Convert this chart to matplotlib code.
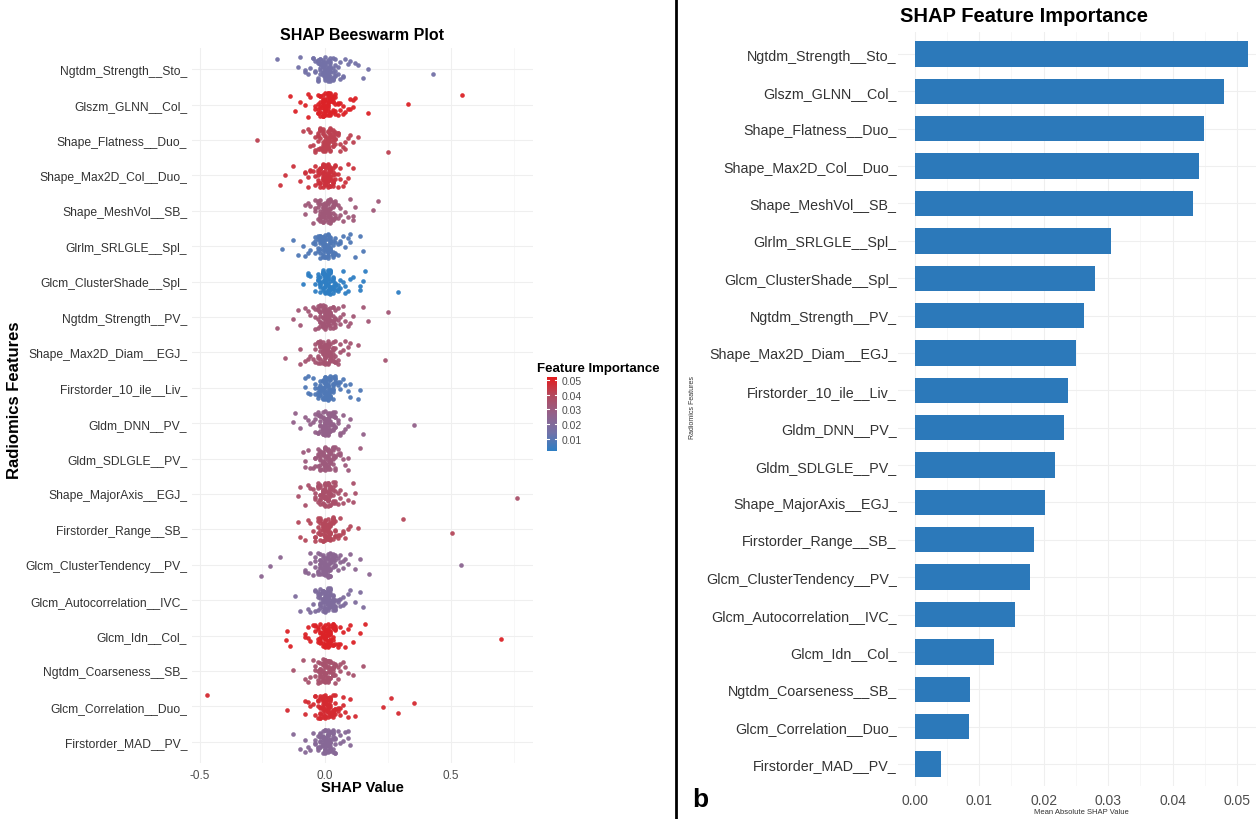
import numpy as np
import matplotlib
matplotlib.use("Agg")
import matplotlib.pyplot as plt
from matplotlib.colors import LinearSegmentedColormap, Normalize
from matplotlib.lines import Line2D
from matplotlib.ticker import MultipleLocator, FixedLocator
import matplotlib.colorbar as mcolorbar

plt.rcParams['font.family'] = ['Liberation Sans', 'DejaVu Sans']

features = [
    "Ngtdm_Strength__Sto_", "Glszm_GLNN__Col_", "Shape_Flatness__Duo_",
    "Shape_Max2D_Col__Duo_", "Shape_MeshVol__SB_", "Glrlm_SRLGLE__Spl_",
    "Glcm_ClusterShade__Spl_", "Ngtdm_Strength__PV_", "Shape_Max2D_Diam__EGJ_",
    "Firstorder_10_ile__Liv_", "Gldm_DNN__PV_", "Gldm_SDLGLE__PV_",
    "Shape_MajorAxis__EGJ_", "Firstorder_Range__SB_", "Glcm_ClusterTendency__PV_",
    "Glcm_Autocorrelation__IVC_", "Glcm_Idn__Col_", "Ngtdm_Coarseness__SB_",
    "Glcm_Correlation__Duo_", "Firstorder_MAD__PV_",
]

# mean |SHAP| per feature (bar chart)
mean_abs_shap = [0.0517, 0.0480, 0.0449, 0.0441, 0.0432, 0.0304, 0.0280, 0.0262,
                 0.0250, 0.0238, 0.0231, 0.0217, 0.0202, 0.0185, 0.0179, 0.0155,
                 0.0123, 0.0085, 0.0084, 0.0040]

# colour value used for each row of the beeswarm
point_importance = [0.015, 0.050, 0.042, 0.046, 0.032, 0.008, 0.002, 0.033,
                    0.034, 0.008, 0.027, 0.031, 0.036, 0.040, 0.024, 0.019,
                    0.050, 0.035, 0.048, 0.022]

# per-sample SHAP values, in hundredths
shap_ngtdm_sto = [0,-1,2,-3,1,4,-2,0,3,-4,-1,2,5,-5,1,-2,3,0,-3,4,-1,2,-4,1,0,3,-2,5,-1,2,0,-3,4,1,-5,2,-2,3,0,1,-1,4,-3,2,0,1,-2,3,
                  -1,0,1,-2,2,0,-1,1,3,-3,0,2,-2,1,-1,0,4,-4,1,-1,2,0,-2,3,1,-1,0,2,-3,1,
                  6,7,-6,8,-7,9,6,-8,10,7,
                  -11,-10,-8,12,15,17,-19,43,13]
shap_glszm = [1,-2,0,3,-1,4,2,-3,0,5,-4,1,3,-1,2,-2,0,4,1,-3,6,2,-1,0,3,-2,5,1,-4,2,0,-1,3,4,-2,1,0,2,-3,5,-1,3,0,1,-2,4,2,-1,
              0,1,-1,2,0,-2,1,3,-1,0,2,-3,1,4,0,-1,2,1,-2,0,3,1,-1,2,0,-3,1,0,2,-1,
              7,-6,8,6,-7,9,10,7,-8,
              -14,-12,-10,-7,11,12,17,33,54.5,10,11]
shap_flatness = [0,2,-1,3,-3,1,4,-2,0,5,-4,2,1,-1,3,-2,0,4,-3,1,2,-5,3,0,-1,5,1,-2,2,4,-3,0,1,-1,3,2,-4,0,5,-2,1,3,-1,0,2,-3,4,1,
                 1,-1,0,2,-2,0,1,3,-3,2,0,-1,1,4,-2,0,2,-1,1,3,0,-4,2,1,-1,0,3,-2,1,0,
                 6,8,-6,7,9,-7,6,10,8,
                 -27,-9,-6,13,25,11]
shap_max2d_col = [-1,0,2,-2,1,3,-3,0,4,-1,2,-4,1,0,3,-2,5,-1,2,0,-3,4,1,-5,2,0,-2,3,1,-1,4,-3,0,2,-4,1,3,-1,0,2,-2,5,1,-3,0,3,-1,2,
                  0,-1,1,2,-2,0,3,-1,1,-3,2,0,1,-2,4,0,-1,2,1,-4,0,3,-1,1,2,-2,0,1,-1,3,
                  -6,7,-7,6,8,-8,9,6,-6,
                  -18,-16,-13,-10,-8,-7,9,11]
shap_meshvol = [0,1,-2,3,-1,2,-3,4,0,-4,1,5,-2,0,3,-1,2,-5,1,4,-3,0,2,-1,3,-2,1,0,5,-4,2,-1,3,0,-2,4,1,-3,2,0,-1,3,1,-2,4,0,2,-1,
                1,0,-1,2,-2,1,3,0,-3,2,-1,1,0,4,-2,2,1,-1,0,3,-4,1,2,0,-1,3,-2,1,0,2,
                6,-6,7,8,-7,9,6,10,-8,
                -8,11,19,21,11,12]
shap_glrlm = [1,0,-2,2,-1,3,-3,0,4,-4,1,2,-2,5,0,-1,3,-5,1,2,-3,4,0,-2,1,3,-1,0,2,-4,5,1,-2,0,3,-1,2,-3,4,0,1,-2,3,-1,0,2,-4,1,
              0,-1,1,2,-2,0,-1,3,1,-3,0,2,-1,1,4,-2,0,1,-1,2,3,0,-4,1,-2,0,2,1,-1,3,
              7,-6,6,-8,8,9,-7,6,10,
              -17,-13,-11,-9,14,15,10,12]
shap_clustershade = [0,2,-1,1,3,-2,0,4,-3,2,1,-1,5,0,-4,3,2,-2,1,0,4,-1,3,-3,2,0,1,5,-2,-1,3,0,2,-4,1,4,0,-1,2,3,-2,1,0,5,-3,2,1,0,
                     1,0,-1,2,0,3,-2,1,-1,0,2,4,-3,1,0,2,-1,3,1,-2,0,1,2,-1,0,3,1,-2,0,2,
                     6,7,8,-6,9,7,-7,6,10,8,
                     -9,-7,14,15,16,14,11,29]
shap_ngtdm_pv = [0,-1,2,1,-3,3,-2,0,4,-4,1,2,-1,5,0,-2,3,-5,1,2,-3,4,0,-1,2,-2,3,1,0,-4,5,-1,2,0,-3,4,1,-2,3,0,2,-1,1,-3,4,0,-2,2,
                 1,0,-1,2,-2,0,3,1,-3,-1,2,0,1,-2,4,0,-1,3,1,-4,2,0,-1,1,3,-2,0,2,-1,1,
                 6,-6,7,8,-7,9,6,-8,10,7,
                 -19,-13,-11,-10,11,15,17,25]
shap_max2d_diam = [1,-1,0,2,-2,3,-3,1,4,0,-4,2,-1,5,1,-2,3,0,-3,2,4,-1,0,1,-5,3,-2,2,0,4,-1,1,-3,3,0,2,-2,5,1,-1,0,3,-4,2,1,-2,0,4,
                   0,1,-1,2,-2,0,1,-3,3,0,2,-1,1,4,-2,0,-1,2,3,-4,1,0,-1,2,1,-3,0,3,-2,1,
                   6,-7,7,8,-6,9,-8,6,10,
                   -16,-10,-10,9,13,24]
shap_first10 = [0,1,-1,2,-2,3,0,-3,4,1,-4,2,0,5,-1,3,-2,1,0,-5,2,4,-1,3,0,-3,1,2,-2,5,0,-1,4,1,-4,3,2,0,-2,1,3,-1,0,2,-3,4,1,-2,
                1,0,-1,2,-2,1,0,3,-3,2,-1,0,1,4,-2,0,2,-1,1,-4,3,0,1,-1,2,-2,0,3,1,-1,
                6,7,-6,8,-7,9,6,10,-8,
                -8,-7,10,13,14]
shap_dnn = [1,0,-1,2,-2,3,1,-3,0,4,-4,2,1,-1,5,0,-2,3,2,-5,1,4,-1,0,3,-3,2,1,0,-2,4,-1,5,2,0,-4,1,3,-2,0,2,-1,4,1,-3,0,3,-1,
            0,1,-1,2,-2,0,3,-1,1,-3,0,2,1,-2,4,0,-1,1,2,-4,3,0,-1,1,-2,2,0,3,-1,1,
            6,-6,7,8,-7,6,9,-8,7,
            -13,-12,-10,10,15,35.5]
shap_sdlgle = [0,2,-1,1,-2,3,0,-3,4,2,-1,1,-4,5,0,3,-2,1,2,-3,4,0,-1,2,-5,3,1,0,-2,4,2,-1,1,3,-3,0,5,-2,2,1,-4,0,3,-1,2,4,-2,1,
               1,-1,0,2,-2,0,1,3,-1,-3,2,0,1,-2,4,0,-1,2,1,-4,0,3,1,-1,2,-2,0,1,3,-1,
               6,-6,7,-7,8,6,9,-8,
               -9,-8,9,14]
shap_majoraxis = [-1,1,0,2,-2,3,-3,1,0,4,-4,2,-1,5,1,-2,3,0,2,-3,4,-1,1,0,-5,3,2,-2,1,4,0,-1,3,-3,2,1,-4,0,5,-2,2,1,-1,3,0,-3,4,2,
                  0,1,-1,2,0,-2,3,1,-3,0,2,-1,1,4,-2,0,1,-1,2,3,-4,0,1,-1,2,-2,0,3,1,0,
                  6,-6,7,8,-7,9,6,-8,
                  -11,-10,11,12,11,76.5]
shap_range = [0,1,-2,2,-1,3,0,-3,4,1,-4,2,-1,5,0,3,-2,1,2,-5,4,0,-1,3,-3,2,1,0,-2,5,1,-1,4,2,-4,0,3,-2,1,2,-1,0,4,-3,3,1,-2,2,
              1,0,-1,2,-2,0,3,1,-1,-3,2,0,1,4,-2,0,2,-1,1,3,-4,0,1,2,-1,0,-2,3,1,0,
              6,7,-6,8,9,-7,6,10,-8,7,
              -11,-10,13,31,50.5]
shap_tendency = [1,-1,0,2,-2,3,-3,0,4,1,-4,2,-1,5,0,-2,3,1,2,-5,4,-1,0,3,-3,1,2,0,-2,4,5,-1,1,3,-4,0,2,-2,1,4,-1,0,3,-3,2,1,-2,0,
                 0,1,-1,2,-2,1,0,3,-3,-1,2,0,1,-2,4,1,-1,0,2,-4,3,0,-1,1,2,-2,0,1,3,-1,
                 6,-6,7,8,-7,9,6,-8,7,
                 -25.5,-22,-18,-8,-6,10,12,14,17.5,54]
shap_autocorr = [0,-1,2,1,-2,3,-3,0,4,-4,2,1,-1,5,0,-2,3,1,-5,2,4,-1,0,3,-3,1,2,-2,0,5,-4,1,3,0,-1,2,4,-2,1,0,3,-3,2,-1,4,1,0,-2,
                 1,0,-1,2,-2,0,1,3,-3,-1,0,2,1,-2,4,0,-1,2,1,-4,3,0,1,-1,2,-2,0,3,1,-1,
                 6,7,-6,8,9,-7,6,10,7,
                 -12,-10,12,14,15]
shap_idn = [1,0,-1,2,-2,3,0,-3,4,1,-4,2,-1,5,0,3,-2,1,-5,2,4,0,-1,3,-3,2,1,-2,0,5,1,-4,3,2,-1,0,4,-2,1,3,-3,0,2,-1,4,1,-2,0,
            0,1,-1,2,0,-2,1,3,-1,-3,2,0,1,-2,4,0,-1,2,1,-4,0,3,-1,1,2,-2,0,1,3,0,
            6,-6,7,8,-7,9,6,-8,10,
            -15.5,-15,-14,-8,-7,11,14,16,70]
shap_coarseness = [0,1,-1,2,-2,3,-3,0,4,1,-4,2,-1,5,0,-2,3,1,2,-5,4,0,-1,3,-3,1,2,-2,0,4,5,-1,1,3,-4,0,2,-2,1,3,-1,0,4,-3,2,1,-2,0,
                   1,0,-1,2,-2,0,3,1,-1,-3,2,0,1,4,-2,0,-1,2,1,-4,3,0,1,-1,2,-2,0,3,-1,1,
                   6,7,-6,8,-7,9,6,-8,
                   -13,-9,11,15]
shap_correlation = [1,-1,0,2,-2,3,0,-3,4,1,-4,2,-1,5,0,3,-2,1,2,-5,4,-1,0,3,-3,2,1,0,-2,5,-1,4,1,-4,3,2,0,-2,1,3,-1,0,4,-3,2,1,-2,0,
                    0,1,-1,2,-2,1,0,3,-3,2,-1,0,1,4,-2,0,2,-1,1,-4,3,0,-1,1,2,-2,0,3,1,-1,
                    6,-6,7,8,-7,9,6,10,-8,7,
                    -47,-15,-8,12,23,26,29,35.5]
shap_mad = [0,1,-1,2,-2,3,-3,0,4,-4,1,2,-1,5,0,-2,3,1,-5,2,4,0,-1,3,-3,1,2,-2,0,4,-4,1,3,0,-1,2,-2,1,0,3,-3,2,-1,4,1,0,-2,2,
            1,-1,0,2,-2,0,1,3,-1,-3,0,2,1,-2,4,0,-1,1,2,-4,3,0,-1,1,2,-2,0,3,1,0,
            6,-6,7,8,-7,9,-8,6,
            -13,-10,-8,9,10]

shap_rows = [shap_ngtdm_sto, shap_glszm, shap_flatness, shap_max2d_col, shap_meshvol,
             shap_glrlm, shap_clustershade, shap_ngtdm_pv, shap_max2d_diam, shap_first10,
             shap_dnn, shap_sdlgle, shap_majoraxis, shap_range, shap_tendency,
             shap_autocorr, shap_idn, shap_coarseness, shap_correlation, shap_mad]

W, H = 1256, 820
fig = plt.figure(figsize=(W / 100, H / 100), dpi=100)

def fx(px):
    return px / W

def fy(py):
    return 1 - py / H

cmap = LinearSegmentedColormap.from_list(
    "imp", ["#2E7EC3", "#7272A8", "#93618A", "#B24A5E", "#E41B1D"])
norm = Normalize(vmin=0.0019, vmax=0.052)

grid_col = "#EFEFEF"
n = len(features)
rows = np.arange(n)

# ---------------- beeswarm ----------------
ax = fig.add_axes([fx(192), fy(764), fx(533 - 192), (764 - 49) / H])
for r, vals in enumerate(shap_rows):
    x = np.asarray(vals, dtype=float) / 100.0
    k = np.arange(len(x))
    jitter = ((k * 0.6180339887 + r * 0.37) % 1.0 - 0.5) * 0.68
    ax.scatter(x, r + jitter, s=11, color=cmap(norm(point_importance[r])),
               linewidths=0, alpha=0.95, zorder=3)
ax.set_xlim(-0.53, 0.827)
ax.set_ylim(n - 0.4, -0.6)
ax.set_xticks([-0.5, 0.0, 0.5])
ax.set_xticklabels(["-0.5", "0.0", "0.5"])
ax.xaxis.set_minor_locator(FixedLocator([-0.25, 0.25, 0.75]))
ax.set_yticks(rows)
ax.set_yticklabels(features)
ax.tick_params(axis="x", length=0, pad=4, labelsize=8.5, labelcolor="#4D4D4D")
ax.tick_params(axis="y", length=0, pad=3.5, labelsize=8.7, labelcolor="#333333")
ax.tick_params(which="minor", length=0)
ax.grid(True, which="major", color=grid_col, linewidth=0.8, zorder=0)
ax.grid(True, which="minor", axis="x", color="#F6F6F6", linewidth=0.6, zorder=0)
for s in ax.spines.values():
    s.set_visible(False)

fig.text(fx(362), fy(35), "SHAP Beeswarm Plot", ha="center", va="center",
         fontsize=11.5, fontweight="bold")
fig.text(fx(362), fy(788), "SHAP Value", ha="center", va="center",
         fontsize=10.5, fontweight="bold")
fig.text(fx(15), fy(400), "Radiomics Features", ha="center", va="center",
         rotation=90, fontsize=12, fontweight="bold")

# colour legend
cax = fig.add_axes([fx(547), fy(452), fx(10), 74 / H])
cb = mcolorbar.ColorbarBase(cax, cmap=cmap, norm=norm, orientation="vertical")
cb.outline.set_visible(False)
cb_ticks = [0.01, 0.02, 0.03, 0.04, 0.05]
cb.set_ticks(cb_ticks)
cb.set_ticklabels(["0.01", "0.02", "0.03", "0.04", "0.05"])
cax.tick_params(length=0, pad=3, labelsize=7.5, labelcolor="#4D4D4D")
for t in cb_ticks:
    cax.plot([0, 0.2], [t, t], color="white", lw=0.8, transform=cax.get_yaxis_transform())
    cax.plot([0.8, 1.0], [t, t], color="white", lw=0.8, transform=cax.get_yaxis_transform())
fig.text(fx(537), fy(369), "Feature Importance", ha="left", va="center",
         fontsize=9.5, fontweight="bold")

# divider
fig.add_artist(Line2D([fx(676), fx(676)], [0, 1], color="black", lw=2,
                      transform=fig.transFigure))

# ---------------- bar chart ----------------
bx = fig.add_axes([fx(898), fy(787.4), fx(W - 898), (787.4 - 32.6) / H])
bx.barh(rows, mean_abs_shap, height=0.68, color="#2C79BA", zorder=3)
bx.set_xlim(-0.0026, 0.05295)
bx.set_ylim(n - 0.4, -0.6)
bx.set_xticks([0.00, 0.01, 0.02, 0.03, 0.04, 0.05])
bx.set_xticklabels(["0.00", "0.01", "0.02", "0.03", "0.04", "0.05"])
bx.xaxis.set_minor_locator(MultipleLocator(0.005))
bx.set_yticks(rows)
bx.set_yticklabels(features)
bx.tick_params(axis="x", length=0, pad=4.5, labelsize=10, labelcolor="#4D4D4D")
bx.tick_params(axis="y", length=0, pad=1, labelsize=10.3, labelcolor="#333333")
bx.tick_params(which="minor", length=0)
bx.grid(True, which="major", color=grid_col, linewidth=0.8, zorder=0)
bx.grid(True, which="minor", axis="x", color="#F6F6F6", linewidth=0.6, zorder=0)
for s in bx.spines.values():
    s.set_visible(False)

fig.text(fx(900), fy(17), "SHAP Feature Importance", ha="left", va="center",
         fontsize=14.5, fontweight="bold")
fig.text(fx(693), fy(408), "Radiomics Features", ha="center", va="center",
         rotation=90, fontsize=5, color="#333333")
fig.text(fx(1081), fy(812.5), "Mean Absolute SHAP Value", ha="center", va="center",
         fontsize=5.5, color="#333333")
fig.text(fx(700), fy(800), "b", ha="center", va="center", fontsize=19,
         fontweight="bold")

fig.savefig("out.png", dpi=100)
